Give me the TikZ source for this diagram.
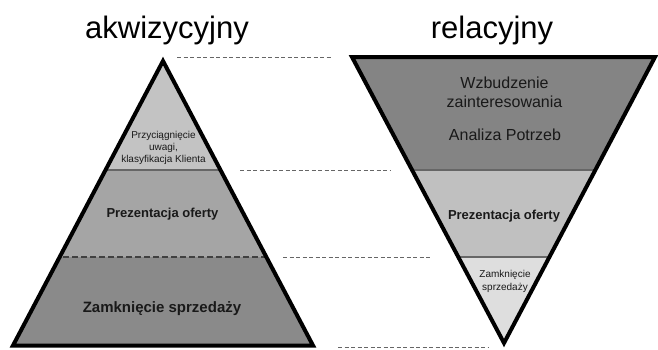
\documentclass[tikz,border=0pt]{standalone}
\usepackage{fontspec}
\setmainfont{Liberation Sans}
\usepackage{tikz}

\definecolor{acqtop}{HTML}{C3C3C3}
\definecolor{acqmid}{HTML}{A5A5A5}
\definecolor{acqbot}{HTML}{8A8A8A}
\definecolor{reltop}{HTML}{848484}
\definecolor{relmid}{HTML}{C0C0C0}
\definecolor{relbot}{HTML}{DEDEDE}

\tikzset{
  outline/.style={line width=4pt, line join=miter},
  guide/.style={black!60, line width=0.8pt, dash pattern=on 4pt off 2.5pt},
  split/.style={black!60, line width=1.2pt},
  lbl/.style={text=black!90, inner sep=0pt, anchor=base, align=center},
}

\begin{document}
\begin{tikzpicture}[x=1pt,y=-1pt]
\useasboundingbox (0,0) rectangle (658,349);
% left pyramid
\coordinate (la) at (163,61);
\coordinate (ll) at (13,345.5);
\coordinate (lr) at (313,345.5);
\scope
\clip (la) -- (ll) -- (lr) -- cycle;
\fill[acqtop] (0,0) rectangle (330,170);
\fill[acqmid] (0,170) rectangle (330,257);
\fill[acqbot] (0,257) rectangle (330,349);
\draw[split] (0,170) -- (330,170);
\draw[split, black!75, dash pattern=on 6pt off 3pt] (0,257) -- (330,257);
\endscope
\draw[outline] (la) -- (ll) -- (lr) -- cycle;
% right funnel
\coordinate (rl) at (352,57);
\coordinate (rr) at (655,57);
\coordinate (ra) at (504,343);
\scope
\clip (rl) -- (rr) -- (ra) -- cycle;
\fill[reltop] (330,0) rectangle (658,170);
\fill[relmid] (330,170) rectangle (658,257);
\fill[relbot] (330,257) rectangle (658,349);
\draw[split] (330,170) -- (658,170);
\draw[split] (330,257) -- (658,257);
\endscope
\draw[outline] (rl) -- (rr) -- (ra) -- cycle;
% guide lines
\coordinate (g1a) at (177,57);  \coordinate (g1b) at (331,57);
\coordinate (g2a) at (240,170); \coordinate (g2b) at (390,170);
\coordinate (g3a) at (283,257); \coordinate (g3b) at (431,257);
\coordinate (g4a) at (338,347); \coordinate (g4b) at (488,347);
\draw[guide] (g1a) -- (g1b);
\draw[guide] (g2a) -- (g2b);
\draw[guide] (g3a) -- (g3b);
\draw[guide] (g4a) -- (g4b);
% titles
\node[lbl, text=black, font=\fontsize{31}{37}\selectfont] (acqtitle) at (167,38) {akwizycyjny};
\node[lbl, text=black, font=\fontsize{31}{37}\selectfont] (reltitle) at (492,38) {relacyjny};
% labels (base = last line)
\node[lbl, font=\fontsize{10}{12}\selectfont] (acq1) at (163.5,162) {Przyciągnięcie\\uwagi,\\klasyfikacja Klienta};
\node[lbl, font=\bfseries\fontsize{13}{15}\selectfont] (acq2) at (162.5,217) {Prezentacja oferty};
\node[lbl, font=\bfseries\fontsize{15}{18}\selectfont] (acq3) at (162,312) {Zamknięcie sprzedaży};
\node[lbl, font=\fontsize{16}{19}\selectfont] (rel1) at (504.5,107) {Wzbudzenie\\zainteresowania};
\node[lbl, font=\fontsize{16}{19}\selectfont] (rel1b) at (505,140) {Analiza Potrzeb};
\node[lbl, font=\bfseries\fontsize{13}{15}\selectfont] (rel2) at (504,219) {Prezentacja oferty};
\node[lbl, font=\fontsize{10}{13}\selectfont] (rel3) at (505,290) {Zamknięcie\\sprzedaży};
\end{tikzpicture}
\end{document}
